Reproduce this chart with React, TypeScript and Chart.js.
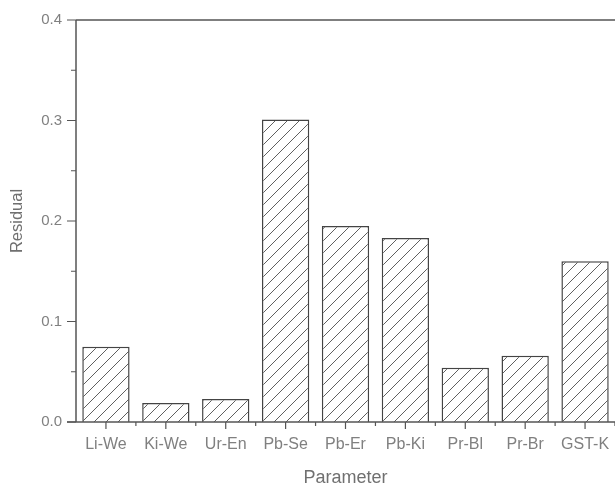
import React, { useEffect, useRef } from "react";
import { Chart, registerables } from "chart.js";

Chart.register(...registerables);

const categories = ["Li-We", "Ki-We", "Ur-En", "Pb-Se", "Pb-Er", "Pb-Ki", "Pr-Bl", "Pr-Br", "GST-K"];
const residuals = [0.075, 0.019, 0.023, 0.301, 0.195, 0.183, 0.054, 0.066, 0.16];
const yTicks = [0, 0.1, 0.2, 0.3, 0.4];
const xTitle = "Parameter";
const yTitle = "Residual";

function makeHatch(): CanvasPattern | string {
  const s = 12;
  const c = document.createElement("canvas");
  c.width = s;
  c.height = s;
  const g = c.getContext("2d");
  if (!g) return "#fff";
  g.fillStyle = "#ffffff";
  g.fillRect(0, 0, s, s);
  g.strokeStyle = "#606060";
  g.lineWidth = 1;
  g.beginPath();
  g.moveTo(0, s);
  g.lineTo(s, 0);
  g.moveTo(-2, 2);
  g.lineTo(2, -2);
  g.moveTo(s - 2, s + 2);
  g.lineTo(s + 2, s - 2);
  g.stroke();
  const p = g.createPattern(c, "repeat");
  return p || "#fff";
}

const axesPlugin = {
  id: "originAxes",
  afterDatasetsDraw(chart: any) {
    const { ctx, chartArea } = chart;
    const xs = chart.scales.x;
    const ys = chart.scales.y;
    const L = chartArea.left;
    const R = chartArea.right;
    const T = chartArea.top;
    const B = chartArea.bottom;
    ctx.save();
    ctx.strokeStyle = "#555555";
    ctx.lineWidth = 1.5;
    ctx.beginPath();
    ctx.moveTo(L, T);
    ctx.lineTo(R, T);
    ctx.moveTo(L, T);
    ctx.lineTo(L, B);
    ctx.moveTo(L - 9, B);
    ctx.lineTo(R, B);
    ctx.stroke();
    ctx.lineWidth = 1.2;
    ctx.beginPath();
    for (let i = 0; i < yTicks.length; i++) {
      const y = ys.getPixelForValue(yTicks[i]);
      ctx.moveTo(L - 9, y);
      ctx.lineTo(L, y);
      if (i < yTicks.length - 1) {
        const ym = ys.getPixelForValue((yTicks[i] + yTicks[i + 1]) / 2);
        ctx.moveTo(L - 5, ym);
        ctx.lineTo(L, ym);
      }
    }
    const step = xs.getPixelForValue(1) - xs.getPixelForValue(0);
    for (let i = 0; i < categories.length; i++) {
      const x = xs.getPixelForValue(i);
      ctx.moveTo(x, B);
      ctx.lineTo(x, B + 7);
      const xb = x + step / 2;
      ctx.moveTo(xb, B);
      ctx.lineTo(xb, B + 4);
    }
    ctx.stroke();
    ctx.restore();
  },
};

export default function App() {
  const ref = useRef<HTMLCanvasElement | null>(null);
  useEffect(() => {
    const canvas = ref.current;
    if (!canvas) return;
    const hatch = makeHatch();
    const chart = new Chart(canvas, {
      type: "bar",
      data: {
        labels: categories,
        datasets: [
          {
            data: residuals,
            backgroundColor: hatch as any,
            borderColor: "#444444",
            borderWidth: 1.5,
            barPercentage: 0.79,
            categoryPercentage: 1,
          },
        ],
      },
      options: {
        responsive: false,
        animation: false,
        layout: { padding: { top: 20, right: 0, left: 0, bottom: 0 } },
        plugins: {
          legend: { display: false },
          tooltip: { enabled: false },
        },
        scales: {
          x: {
            type: "category",
            offset: true,
            grid: { display: false, drawTicks: false },
            border: { display: false },
            ticks: {
              color: "#808080",
              font: { family: "'Liberation Sans', Arial, sans-serif", size: 16 },
              padding: 13,
              maxRotation: 0,
              autoSkip: false,
            },
            title: {
              display: true,
              text: xTitle,
              color: "#707070",
              font: { family: "'Liberation Sans', Arial, sans-serif", size: 18 },
              padding: { top: 0, bottom: -3 },
            },
            afterFit: (s: any) => {
              s.height = 64;
              s.paddingLeft = 0;
              s.paddingRight = 0;
            },
          },
          y: {
            min: 0,
            max: 0.4,
            grid: { display: false, drawTicks: false },
            border: { display: false },
            ticks: {
              stepSize: 0.1,
              color: "#808080",
              font: { family: "'Liberation Sans', Arial, sans-serif", size: 15 },
              padding: 14,
              callback: (v: any) => Number(v).toFixed(1),
            },
            title: {
              display: true,
              text: yTitle,
              color: "#707070",
              font: { family: "'Liberation Sans', Arial, sans-serif", size: 16.5 },
              padding: { top: 8, bottom: 0 },
            },
            afterFit: (s: any) => {
              s.width = 76;
              s.paddingTop = 0;
              s.paddingBottom = 0;
            },
          },
        },
      },
      plugins: [axesPlugin],
    });
    return () => chart.destroy();
  }, []);
  return (
    <div style={{ position: "absolute", left: 0, top: 0, width: 615, height: 486, background: "#fff" }}>
      <canvas ref={ref} width={615} height={486} style={{ display: "block", width: 615, height: 486 }} />
    </div>
  );
}
